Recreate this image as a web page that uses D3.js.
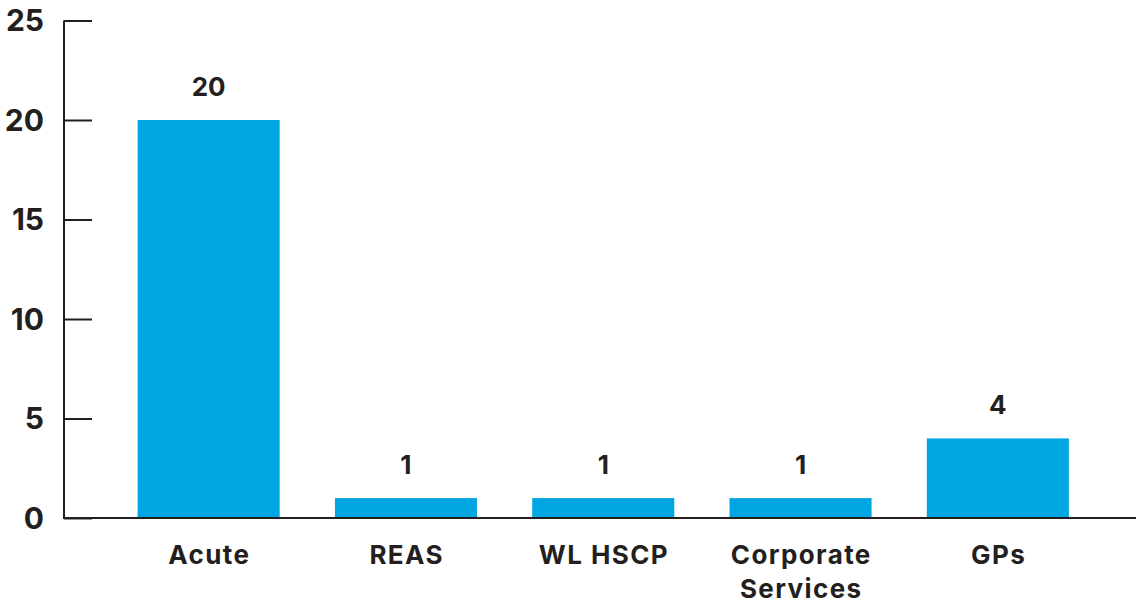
<!DOCTYPE html>
<html>
<head>
<meta charset="utf-8">
<script src="https://cdn.jsdelivr.net/npm/d3@7"></script>
<style>
  html, body { margin: 0; padding: 0; background: #fff; }
  svg { display: block; }
  text { font-family: "Inter", "Open Sans", sans-serif; font-weight: 700; fill: #231f20; }
</style>
</head>
<body>
<svg id="chart" width="1136" height="603"></svg>
<script>
// Incidents by service area
const categories = ["Acute", "REAS", "WL HSCP", "Corporate\nServices", "GPs"];
const values = [20, 1, 1, 1, 4];
const yTicks = [0, 5, 10, 15, 20, 25];

const width = 1136, height = 603;
const margin = { top: 20, right: 0, bottom: 85, left: 64 };
const ink = "#231f20";
const barColor = "#00a6e2";

const svg = d3.select("#chart");

const x = d3.scaleBand()
  .domain(categories)
  .range([margin.left + 46, margin.left + 46 + 197.3 * 5])
  .paddingInner(0.28)
  .paddingOuter(0.14);

const y = d3.scaleLinear()
  .domain([0, 25])
  .range([height - margin.bottom, margin.top + 0.5]);

// Left axis with inward ticks
const yAxis = svg.append("g")
  .attr("transform", `translate(${margin.left},0)`)
  .call(d3.axisRight(y).tickValues(yTicks).tickSize(28).tickFormat(""));
yAxis.select(".domain").remove();
yAxis.selectAll(".tick line").attr("stroke", ink).attr("stroke-width", 2);

svg.append("line")
  .attr("x1", margin.left).attr("x2", margin.left)
  .attr("y1", y(25)).attr("y2", y(0) + 1)
  .attr("stroke", ink).attr("stroke-width", 2);

svg.append("g").selectAll("text")
  .data(yTicks)
  .join("text")
  .attr("x", 44)
  .attr("y", d => y(d))
  .attr("dy", "0.36em")
  .attr("text-anchor", "end")
  .style("font-size", "30px")
  .text(d => d);

// Bars
svg.append("g").selectAll("rect")
  .data(values)
  .join("rect")
  .attr("x", (d, i) => x(categories[i]))
  .attr("width", x.bandwidth())
  .attr("y", d => y(d))
  .attr("height", d => y(0) - y(d))
  .attr("fill", barColor);

// Baseline
svg.append("line")
  .attr("x1", margin.left).attr("x2", width)
  .attr("y1", y(0)).attr("y2", y(0))
  .attr("stroke", ink).attr("stroke-width", 2);

// Value labels
svg.append("g").selectAll("text")
  .data(values)
  .join("text")
  .attr("x", (d, i) => x(categories[i]) + x.bandwidth() / 2)
  .attr("y", d => y(d) - 24)
  .attr("text-anchor", "middle")
  .style("font-size", "26px")
  .text(d => d);

// Category labels
const catLabels = svg.append("g").selectAll("text")
  .data(categories)
  .join("text")
  .attr("x", d => x(d) + x.bandwidth() / 2)
  .attr("y", 564)
  .attr("text-anchor", "middle")
  .style("font-size", "26px")
  .style("letter-spacing", "1.4px");

catLabels.selectAll("tspan")
  .data(d => d.split("\n").map(s => ({ s, x: x(d) + x.bandwidth() / 2 + 0.7 })))
  .join("tspan")
  .attr("x", t => t.x)
  .attr("dy", (t, i) => i === 0 ? 0 : 34)
  .text(t => t.s);
</script>
</body>
</html>
